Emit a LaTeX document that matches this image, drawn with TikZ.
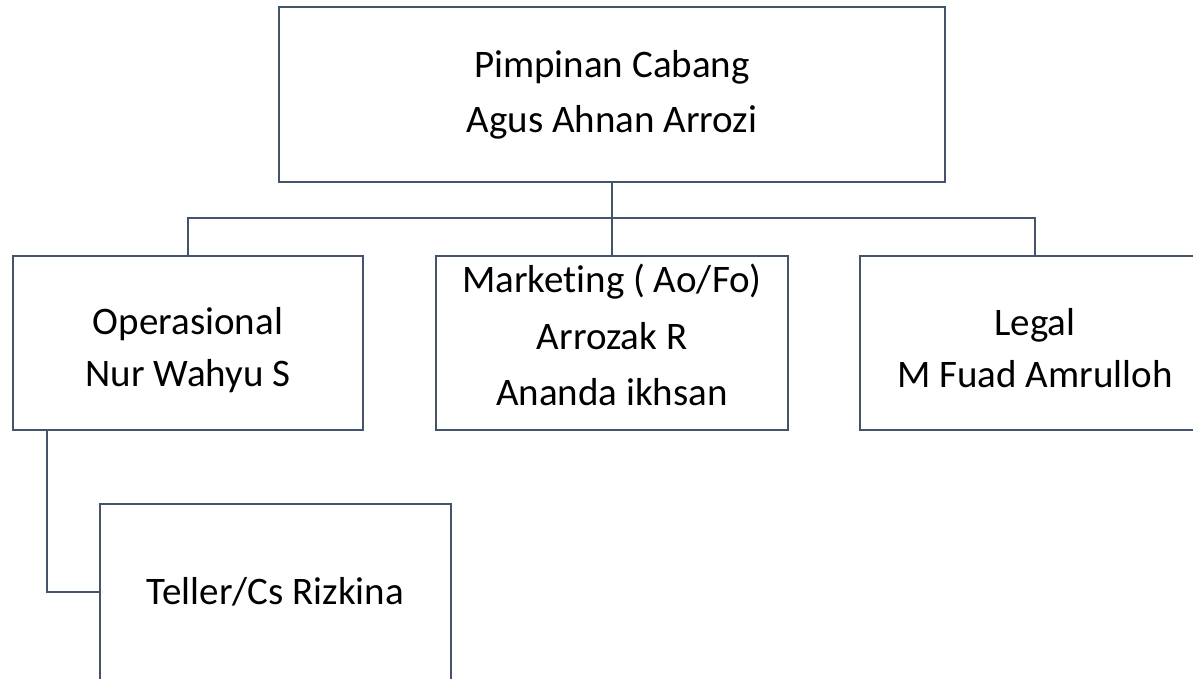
\documentclass[tikz,border=0pt]{standalone}
\usepackage{fontspec}
\setmainfont[Ligatures={NoCommon}]{Carlito}
\definecolor{linec}{HTML}{44546A}
\begin{document}
\begin{tikzpicture}[x=1pt,y=-1pt,
  orgbox/.style={draw=linec, line width=2.5pt, rectangle, inner sep=0pt,
    minimum height=174pt},
  lbl/.style={align=center, text=black, inner sep=0pt},
  link/.style={draw=linec, line width=2.5pt}]
\clip (0,0) rectangle (1193,678);
\fill[white] (0,0) rectangle (1193,678);

% boxes
\node[orgbox, minimum width=666pt, minimum height=175pt] (top) at (612,94.5) {};
\node[orgbox, minimum width=350pt] (oper) at (188,343) {};
\node[orgbox, minimum width=352pt] (mkt) at (612,343) {};
\node[orgbox, minimum width=350pt] (legal) at (1035,343) {};
\node[orgbox, minimum width=351pt, minimum height=176pt] (teller) at (275.5,592) {};

% box texts
\node[lbl, font=\fontsize{39}{55}\selectfont] (topt) at (top.center)
  {Pimpinan Cabang\\Agus Ahnan Arrozi};
\node[lbl, font=\fontsize{39}{52}\selectfont] (opert) at ([yshift=-7pt]oper.center)
  {Operasional\\Nur Wahyu S};
\node[lbl, font=\fontsize{39}{56.5}\selectfont] (mktt) at ([yshift=8pt]mkt.center)
  {Market\kern0pt ing ( Ao/Fo)\\Arrozak R\\Ananda ikhsan};
\node[lbl, font=\fontsize{39}{52}\selectfont] (legalt) at ([yshift=-5pt]legal.center)
  {Legal\\M Fuad Amrulloh};
\node[lbl, font=\fontsize{39}{51}\selectfont] (tellert) at (teller.center)
  {Teller/Cs Rizkina};

% connectors
\coordinate (bus) at (612,218);
\draw[link] (top.south) -- (mkt.north);
\draw[link] (oper.north) |- (bus) -| (legal.north);
\draw[link] ([xshift=35pt]oper.south west) |- (teller.west);
\end{tikzpicture}
\end{document}
